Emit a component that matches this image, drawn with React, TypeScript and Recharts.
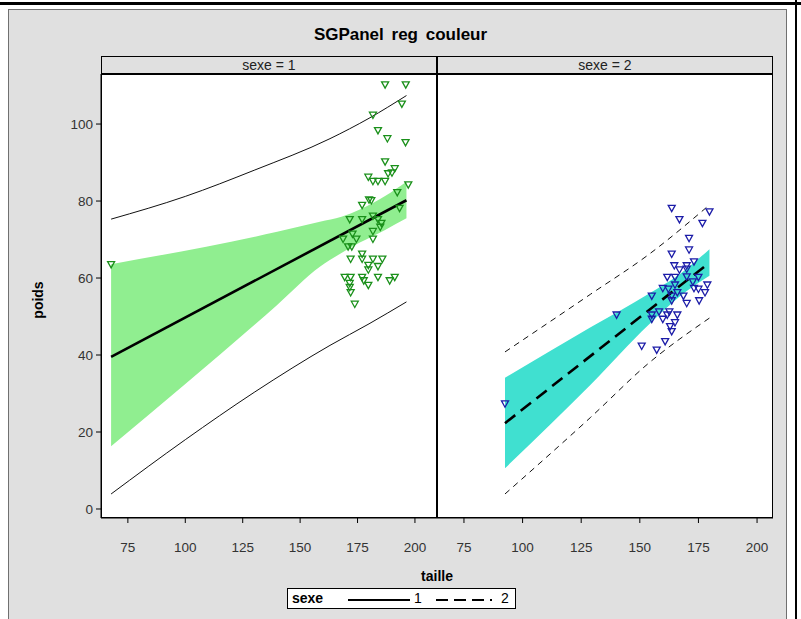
import React from "react";
import { ComposedChart, Line, Area, Scatter, XAxis, YAxis } from "recharts";

const xTicks = [75, 100, 125, 150, 175, 200];
const yTicks = [0, 20, 40, 60, 80, 100];
const panelTitles = ["sexe = 1", "sexe = 2"];
const legendLabels = ["1", "2"];

// sexe = 1 : observations
const taille1 = [67.7, 187.0, 196.0, 194.3, 181.7, 183.9, 188.0, 195.9, 187.0, 191.2, 190.0, 188.3, 179.7, 181.7, 183.9, 187.0, 197.1,
  192.3, 181.0, 180.0, 177.0, 193.3, 171.6, 177.0, 181.7, 183.9, 185.4, 184.9, 181.7, 172.8, 168.7, 174.5, 181.7, 170.9, 172.5,
  177.0, 177.0, 172.0, 181.7, 185.8, 179.7, 183.9, 179.7, 169.4, 172.0, 177.0, 183.9, 191.2, 189.0, 177.7, 179.7, 171.6, 171.6, 172.0, 173.8];
const poids1 = [63.5, 110.2, 110.2, 105.2, 102.3, 98.3, 96.2, 95.2, 90.2, 88.4, 87.3, 87.1, 86.2, 85.1, 85.1, 85.1, 84.2,
  82.2, 80.1, 80.3, 78.9, 78.1, 75.2, 75.2, 76.1, 75.2, 74.2, 73.2, 72.1, 71.4, 70.1, 70.1, 70.1, 68.1, 68.1,
  66.2, 64.9, 64.9, 64.9, 64.9, 63.3, 63.0, 62.1, 60.2, 60.2, 60.2, 60.2, 60.2, 59.3, 59.3, 58.1, 58.6, 57.6, 56.2, 53.2];

// sexe = 1 : fit, confidence band, prediction limits
const fitX1 = [67.7, 196.3];
const fitY1 = [39.5, 80.2];
const bandX1 = [67.7, 140, 158.6, 168, 176, 187, 196.3];
const bandLo1 = [16.3, 53.0, 62.9, 66.5, 69.2, 72.5, 75.5];
const bandHi1 = [63.6, 72.0, 74.6, 75.9, 77.8, 81.3, 85.0];
const predX1 = [67.7, 100, 130, 163, 180, 196.3];
const predHi1 = [75.3, 81.2, 88.0, 96.2, 101.5, 107.4];
const predLo1 = [3.9, 18.0, 30.3, 42.5, 48.1, 53.8];

// sexe = 2 : observations
const taille2 = [92.5, 163.6, 179.7, 166.9, 176.7, 171.0, 171.0, 163.6, 164.7, 170.0, 173.1, 166.9, 170.0,
  161.7, 165.0, 170.0, 172.6, 175.0, 165.0, 159.8, 162.2, 166.0, 173.1, 175.0, 178.8, 177.8, 155.1, 163.6, 168.6, 170.0,
  163.6, 175.3, 140.1, 155.1, 158.2, 162.6, 166.0, 155.1, 159.8, 161.7, 165.0, 162.9, 163.6, 160.8, 150.8, 157.2];
const poids2 = [27.3, 78.1, 77.2, 75.2, 74.2, 70.3, 67.3, 66.2, 63.2, 63.2, 64.2, 62.1, 62.3,
  60.2, 60.2, 60.3, 59.0, 60.2, 58.2, 57.3, 57.1, 56.2, 57.3, 57.1, 58.2, 56.2, 55.3, 55.3, 55.3, 53.4,
  54.1, 54.1, 50.4, 50.4, 51.2, 51.2, 50.4, 49.3, 49.3, 50.4, 48.4, 47.4, 46.1, 43.5, 42.3, 41.3];

// sexe = 2 : fit, confidence band, prediction limits
const fitX2 = [92.5, 179.7];
const fitY2 = [22.3, 64.0];
const bandX2 = [92.5, 129, 154, 167, 179.7];
const bandLo2 = [10.6, 32.3, 48.0, 55.2, 60.6];
const bandHi2 = [34.1, 47.2, 56.0, 61.0, 67.5];
const predX2 = [92.5, 129, 154, 179.7];
const predHi2 = [40.8, 55.8, 66.2, 79.0];
const predLo2 = [3.9, 23.8, 38.0, 49.6];

const FONT = "'Liberation Sans', Arial, sans-serif";
const Y_DOMAIN = [-2.34, 113];

const pts = (xs: number[], ys: number[]) => xs.map((x, i) => ({ x, y: ys[i] }));

const triDown = (color: string) => (props: any) => {
  const { cx, cy } = props;
  if (cx == null || cy == null) return <g />;
  const s = 3.5;
  return (
    <polygon
      points={`${cx - s},${cy - s * 0.85} ${cx + s},${cy - s * 0.85} ${cx},${cy + s * 0.95}`}
      fill="none"
      stroke={color}
      strokeWidth={1.3}
    />
  );
};

const Panel = (p: any) => {
  const bandData = p.bandX.map((x: number, i: number) => ({ x, band: [p.bandLo[i], p.bandHi[i]] }));
  const tickStyle = { fill: "#333", fontSize: 13.5, fontFamily: FONT };
  return (
    <ComposedChart width={p.width} height={484} data={bandData} margin={{ top: 0, right: 0, bottom: 0, left: 0 }}>
      <XAxis
        dataKey="x"
        type="number"
        domain={p.xDomain}
        allowDataOverflow
        ticks={xTicks}
        height={40}
        tickSize={5}
        tickMargin={19}
        tick={tickStyle}
        axisLine={{ stroke: "#000" }}
        tickLine={{ stroke: "#000" }}
      />
      <YAxis
        type="number"
        domain={Y_DOMAIN}
        allowDataOverflow
        ticks={yTicks}
        width={61}
        hide={!p.showY}
        tickSize={5}
        tickMargin={3}
        tick={tickStyle}
        axisLine={{ stroke: "#000" }}
        tickLine={{ stroke: "#000" }}
      />
      <Area dataKey="band" type="monotone" fill={p.bandColor} fillOpacity={1} stroke="none" isAnimationActive={false} />
      <Line data={pts(p.predX, p.predHi)} dataKey="y" type="monotone" stroke="#111" strokeWidth={1}
        strokeDasharray={p.dashed ? "6 5" : undefined} dot={false} isAnimationActive={false} />
      <Line data={pts(p.predX, p.predLo)} dataKey="y" type="monotone" stroke="#111" strokeWidth={1}
        strokeDasharray={p.dashed ? "6 5" : undefined} dot={false} isAnimationActive={false} />
      <Line data={pts(p.fitX, p.fitY)} dataKey="y" type="linear" stroke="#000" strokeWidth={2.6}
        strokeDasharray={p.dashed ? "13 7" : undefined} dot={false} isAnimationActive={false} />
      <Scatter data={pts(p.taille, p.poids)} dataKey="y" shape={triDown(p.pointColor)} isAnimationActive={false} />
    </ComposedChart>
  );
};

const abs = (left: number, top: number, extra: React.CSSProperties = {}): React.CSSProperties => ({
  position: "absolute",
  left,
  top,
  ...extra,
});

export default function App() {
  return (
    <div style={{ position: "absolute", left: 0, top: 0, width: 801, height: 619, background: "#fff", overflow: "hidden", fontFamily: FONT }}>
      {/* page edges */}
      <div style={abs(0, 2, { width: 801, height: 3, background: "#000" })} />
      <div style={abs(795, 0, { width: 2, height: 619, background: "#000" })} />
      {/* gray frame */}
      <div style={abs(8, 9, { width: 777, height: 620, background: "#e0e0e0", border: "1px solid #707070" })} />
      <div style={abs(0, 25, { width: 801, textAlign: "center", fontWeight: "bold", fontSize: 17, wordSpacing: 3, color: "#000" })}>
        SGPanel reg couleur
      </div>
      {/* strip headers */}
      {panelTitles.map((t, i) => (
        <div key={t} style={abs(101 + i * 336, 57, { width: 336, height: 17, textAlign: "center", fontSize: 14, lineHeight: "17px", color: "#222" })}>
          {t}
        </div>
      ))}
      <div style={abs(101, 56, { width: 672, height: 1, background: "#000" })} />
      {/* plot area backgrounds */}
      <div style={abs(101, 74, { width: 672, height: 444, background: "#fff" })} />
      <div style={abs(40, 74)}>
        <Panel
          width={397}
          bandX={bandX1} bandLo={bandLo1} bandHi={bandHi1}
          fitX={fitX1} fitY={fitY1}
          predX={predX1} predHi={predHi1} predLo={predLo1}
          taille={taille1} poids={poids1}
          bandColor="#90ee90" pointColor="#1a901a" dashed={false}
          xDomain={[63.3, 209.6]} showY
        />
      </div>
      <div style={abs(437, 74)}>
        <Panel
          width={336}
          bandX={bandX2} bandLo={bandLo2} bandHi={bandHi2}
          fitX={fitX2} fitY={fitY2}
          predX={predX2} predHi={predHi2} predLo={predLo2}
          taille={taille2} poids={poids2}
          bandColor="#40e0d0" pointColor="#1c1ca8" dashed
          xDomain={[63.5, 206.8]} showY={false}
        />
      </div>
      {/* panel borders */}
      <div style={abs(101, 56, { width: 672, height: 462, border: "1px solid #000", boxSizing: "border-box", pointerEvents: "none" })} />
      <div style={abs(101, 73, { width: 672, height: 2, background: "#000" })} />
      <div style={abs(436, 56, { width: 2, height: 462, background: "#000" })} />
      {/* axis labels */}
      <div style={abs(3, 300, { width: 70, textAlign: "center", fontWeight: "bold", fontSize: 14, transform: "translate(0,-50%) rotate(-90deg)" })}>
        poids
      </div>
      <div style={abs(337, 568, { width: 200, textAlign: "center", fontWeight: "bold", fontSize: 14 })}>taille</div>
      {/* legend */}
      <div style={abs(287, 588, { width: 229, height: 21, background: "#fff", border: "1px solid #000", boxSizing: "border-box" })}>
        <span style={abs(4, 1, { fontWeight: "bold", fontSize: 14 })}>sexe</span>
        <svg style={abs(60, 9)} width={62} height={4}>
          <line x1={0} y1={2} x2={62} y2={2} stroke="#000" strokeWidth={2} />
        </svg>
        <span style={abs(126, 1, { fontSize: 14 })}>{legendLabels[0]}</span>
        <svg style={abs(148, 9)} width={56} height={4}>
          <line x1={0} y1={2} x2={56} y2={2} stroke="#000" strokeWidth={2} strokeDasharray="12 6" />
        </svg>
        <span style={abs(213, 1, { fontSize: 14 })}>{legendLabels[1]}</span>
      </div>
    </div>
  );
}
